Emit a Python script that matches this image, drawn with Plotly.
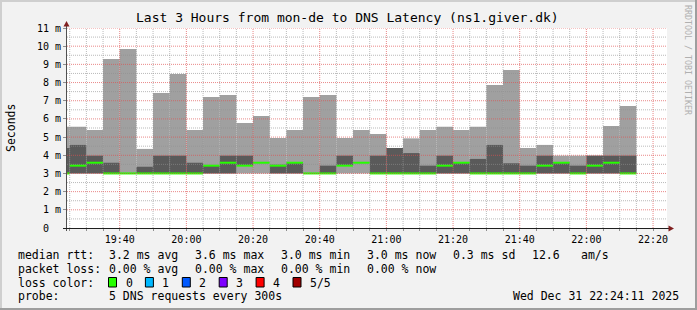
import plotly.graph_objects as go
from datetime import datetime, timedelta

DAY = "2025-12-31"
# 5-minute smoke bars (start time of each interval)
bar_start = ["19:20", "19:25", "19:30", "19:35", "19:40", "19:45", "19:50", "19:55",
             "20:00", "20:05", "20:10", "20:15", "20:20", "20:25", "20:30", "20:35",
             "20:40", "20:45", "20:50", "20:55", "21:00", "21:05", "21:10", "21:15",
             "21:20", "21:25", "21:30", "21:35", "21:40", "21:45", "21:50", "21:55",
             "22:00", "22:05", "22:10"]
# sorted ping values (ms): lowest, 2nd, median, 4th, highest
rtt_min = [3.0, 3.0, 3.0, 3.0, 3.0, 3.0, 3.0, 3.0, 3.0, 3.0, 3.0, 3.0, 3.0, 3.0, 3.0, 3.0, 3.0, 3.0,
           3.0, 3.0, 3.0, 3.0, 3.0, 3.0, 3.0, 3.0, 3.0, 3.0, 3.0, 3.0, 3.0, 3.0, 3.0, 3.0, 3.0]
rtt_p2 = [3.0, 3.0, 3.0, 3.0, 3.0, 3.0, 3.0, 3.0, 3.0, 3.0, 3.0, 3.43, 3.59, 3.0, 3.0, 3.0, 3.0, 3.43,
          3.59, 3.0, 3.0, 3.0, 3.0, 3.0, 3.0, 3.0, 3.0, 3.0, 3.0, 3.0, 3.0, 3.0, 3.0, 3.0, 3.0]
rtt_median = [3.0, 3.43, 3.59, 3.0, 3.0, 3.0, 3.0, 3.0, 3.0, 3.43, 3.59, 3.43, 3.59, 3.43, 3.59, 3.0,
              3.0, 3.43, 3.59, 3.0, 3.0, 3.0, 3.0, 3.43, 3.59, 3.0, 3.0, 3.0, 3.0, 3.43, 3.59, 3.0,
              3.43, 3.59, 3.0]
rtt_p4 = [4.40, 4.57, 3.98, 3.59, 3.0, 3.37, 3.98, 3.98, 3.59, 3.43, 3.98, 3.98, 3.59, 3.48, 3.59, 3.0,
          3.43, 3.98, 3.59, 3.98, 4.40, 4.12, 3.43, 3.98, 3.59, 3.80, 4.57, 3.56, 3.43, 3.98, 3.59, 3.43,
          3.98, 3.98, 3.98]
rtt_max = [5.57, 5.57, 5.39, 9.30, 9.85, 4.35, 7.43, 8.47, 5.39, 7.20, 7.32, 5.78, 6.16, 4.95, 5.39, 7.20,
           7.32, 4.95, 5.39, 5.17, 4.40, 4.93, 5.39, 5.57, 5.39, 5.57, 7.87, 8.69, 4.40, 4.57, 3.98, 3.98,
           3.98, 5.61, 6.71]

x_major = ["19:40", "20:00", "20:20", "20:40", "21:00", "21:20", "21:40", "22:00", "22:20"]
y_ticks = [0, 1, 2, 3, 4, 5, 6, 7, 8, 9, 10, 11]
y_tick_labels = ["0\u00a0\u00a0", "1\u00a0m", "2\u00a0m", "3\u00a0m", "4\u00a0m", "5\u00a0m", "6\u00a0m",
                 "7\u00a0m", "8\u00a0m", "9\u00a0m", "10\u00a0m", "11\u00a0m"]

title = "Last 3 Hours from mon-de to DNS Latency (ns1.giver.dk)"
rtt_labels = ["median rtt:", "3.2 ms avg", "3.6 ms max", "3.0 ms min", "3.0 ms now", "0.3 ms sd", "12.6", "am/s"]
loss_labels = ["packet loss:", "0.00 % avg", "0.00 % max", "0.00 % min", "0.00 % now"]
loss_color_names = ["0", "1", "2", "3", "4", "5/5"]
loss_color_values = ["#26ff00", "#00b8ff", "#0059ff", "#7e00ff", "#ff0000", "#a10000"]
probe_text = "5 DNS requests every 300s"
stamp_text = "Wed Dec 31 22:24:11 2025"

FONT = "DejaVu Sans Mono"
W, H = 697, 310
L, R, T, B = 67, 667, 28, 228


def px(xp):
    return (xp - L) / (R - L)


def py(yp):
    return (B - yp) / (B - T)


def t(hm):
    return datetime.strptime(DAY + " " + hm, "%Y-%m-%d %H:%M")


starts = [t(s) for s in bar_start]
step = timedelta(minutes=5)
centers = [s + step / 2 for s in starts]

fig = go.Figure()
fig.add_trace(go.Bar(x=centers, base=rtt_min, y=[a - b for a, b in zip(rtt_max, rtt_min)],
                     width=300000, marker=dict(color="#a0a0a0", line=dict(width=0)),
                     hoverinfo="skip"))
fig.add_trace(go.Bar(x=centers, base=rtt_p2, y=[a - b for a, b in zip(rtt_p4, rtt_p2)],
                     width=300000, marker=dict(color="#5a5a5a", line=dict(width=0)),
                     hoverinfo="skip"))
mx, my = [], []
for s, m in zip(starts, rtt_median):
    mx += [s, s + step, None]
    my += [m, m, None]
fig.add_trace(go.Scatter(x=mx, y=my, mode="lines", line=dict(color="#26ff00", width=2),
                         hoverinfo="skip"))

t0 = datetime(2025, 12, 31, 19, 24, 11)
t1 = datetime(2025, 12, 31, 22, 24, 11)

shapes = []
# grid (drawn above the smoke like rrdtool)
minor_col = "rgba(143,143,143,0.62)"
major_col = "rgba(222,79,79,0.68)"
g = t("19:25")
while g <= t1:
    if g.minute % 20 != 0:
        shapes.append(dict(type="line", xref="x", yref="paper", x0=g, x1=g, y0=0, y1=1,
                           line=dict(color=minor_col, width=1, dash="1px,1px")))
    g += step
for v in [i + 0.5 for i in range(11)]:
    shapes.append(dict(type="line", xref="paper", yref="y", x0=0, x1=1, y0=v, y1=v,
                       line=dict(color=minor_col, width=1, dash="1px,1px")))
for hm in x_major:
    shapes.append(dict(type="line", xref="x", yref="paper", x0=t(hm), x1=t(hm), y0=0, y1=1,
                       line=dict(color=major_col, width=1, dash="1px,1px")))
for v in y_ticks[1:]:
    shapes.append(dict(type="line", xref="paper", yref="y", x0=0, x1=1, y0=v, y1=v,
                       line=dict(color=major_col, width=1, dash="1px,1px")))

# axes and arrows
shapes.append(dict(type="line", xref="paper", yref="paper", x0=px(66.5), x1=px(66.5),
                   y0=py(231), y1=py(26), line=dict(color="#505050", width=1)))
shapes.append(dict(type="line", xref="paper", yref="paper", x0=px(63), x1=px(669),
                   y0=py(228.5), y1=py(228.5), line=dict(color="#1f1f1f", width=1)))
shapes.append(dict(type="path", xref="paper", yref="paper",
                   path="M {} {} L {} {} L {} {} Z".format(px(63.5), py(26.5), px(69.5), py(26.5),
                                                          px(66.5), py(21)),
                   fillcolor="#801f1f", line=dict(width=0)))
shapes.append(dict(type="path", xref="paper", yref="paper",
                   path="M {} {} L {} {} L {} {} Z".format(px(668.5), py(225.5), px(668.5), py(231.5),
                                                          px(674), py(228.5)),
                   fillcolor="#801f1f", line=dict(width=0)))
# frame
shapes.append(dict(type="line", xref="paper", yref="paper", x0=px(0), x1=px(W), y0=py(1), y1=py(1),
                   line=dict(color="#cfcfcf", width=2)))
shapes.append(dict(type="line", xref="paper", yref="paper", x0=px(1), x1=px(1), y0=py(0), y1=py(H),
                   line=dict(color="#cfcfcf", width=2)))
shapes.append(dict(type="line", xref="paper", yref="paper", x0=px(0), x1=px(W), y0=py(H - 1), y1=py(H - 1),
                   line=dict(color="#9e9e9e", width=2)))
shapes.append(dict(type="line", xref="paper", yref="paper", x0=px(W - 1), x1=px(W - 1), y0=py(0), y1=py(H),
                   line=dict(color="#9e9e9e", width=2)))

annotations = []


def txt(x, y, s, size=11.5, anchor="left", color="#000000", angle=0):
    annotations.append(dict(xref="paper", yref="paper", x=px(x), y=py(y), text=s, showarrow=False,
                            xanchor=anchor, yanchor="middle", textangle=angle,
                            font=dict(family=FONT, size=size, color=color)))


txt(347, 18, title, size=13, anchor="center")
txt(11, 128, "Seconds", size=11.5, anchor="center", angle=-90)
txt(688, 60, "RRDTOOL / TOBI OETIKER", size=8.3, anchor="center", color="#b0b0b0", angle=90)

row_y = [254.5, 268.5, 282.5, 296]
rtt_x = [16, 107, 192.5, 279, 365, 451, 530, 579]
for xx, s in zip(rtt_x, rtt_labels):
    txt(xx, row_y[0], s)
for xx, s in zip(rtt_x, loss_labels):
    txt(xx, row_y[1], s)
txt(16, row_y[2], "loss color:")
for i, (nm, col) in enumerate(zip(loss_color_names, loss_color_values)):
    bx = 108.5 + i * 36.9
    shapes.append(dict(type="rect", xref="paper", yref="paper", x0=px(bx), x1=px(bx + 8),
                       y0=py(287), y1=py(277.5), fillcolor=col, line=dict(color="#000000", width=1)))
    txt(bx + 15, row_y[2], nm)
txt(16, row_y[3], "probe:")
txt(107, row_y[3], probe_text)
txt(681, row_y[3], stamp_text, anchor="right")

fig.update_layout(
    width=W, height=H, autosize=False,
    margin=dict(l=L, r=W - R, t=T, b=H - B, pad=0),
    paper_bgcolor="#f2f2f2", plot_bgcolor="#ffffff",
    barmode="overlay", showlegend=False,
    shapes=shapes, annotations=annotations,
    xaxis=dict(type="date", range=[t0, t1], showgrid=False, zeroline=False, showline=False,
               tickvals=[t(h) for h in x_major], ticktext=x_major,
               ticks="outside", ticklen=2, tickcolor="#8f8f8f",
               tickfont=dict(family=FONT, size=10, color="#000000"),
               minor=dict(ticks="outside", ticklen=2, tickcolor="#8f8f8f", dtick=300000,
                          tick0=t("19:25"), showgrid=False)),
    yaxis=dict(range=[0, 11], showgrid=False, zeroline=False, showline=False,
               tickvals=y_ticks, ticktext=y_tick_labels,
               ticks="outside", ticklen=3, tickcolor="#8f8f8f",
               tickfont=dict(family=FONT, size=10, color="#000000")),
)

fig.write_html("out.html")
